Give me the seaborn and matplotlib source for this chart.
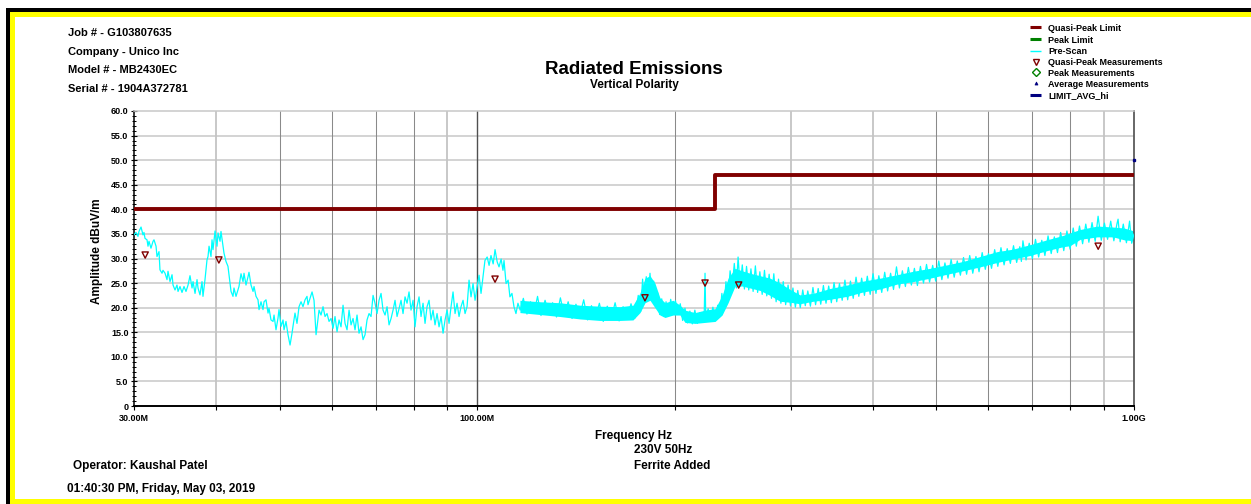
import matplotlib
matplotlib.use("Agg")
import numpy as np
import pandas as pd
import matplotlib.pyplot as plt
import seaborn as sns
from matplotlib.patches import Rectangle
from matplotlib.lines import Line2D
from matplotlib.ticker import FixedLocator, FixedFormatter, NullFormatter, MultipleLocator, FuncFormatter

# ---------------- data ----------------
qp_limit_mhz = [30, 230, 230, 1000]
qp_limit_db = [40, 40, 47, 47]

avg_hi_limit_mhz = [1000]
avg_hi_limit_db = [50]

qp_meas_mhz = [31.2, 40.4, 106.4, 180.0, 222.2, 250.0, 882.0]
qp_meas_db = [30.7, 29.7, 25.8, 22.0, 25.0, 24.6, 32.5]

# pre-scan trace, 30 MHz - 116 MHz
scan_low_mhz = [
    30.00, 30.21, 30.42, 30.53, 30.75, 30.96, 31.07, 31.18, 31.40, 31.51, 31.62, 31.84,
    32.07, 32.18, 32.41, 32.52, 32.75, 32.86, 33.10, 33.21, 33.45, 33.68, 33.80, 34.04,
    34.28, 34.40, 34.64, 34.88, 35.01, 35.25, 35.50, 35.75, 36.00, 36.26, 36.51, 36.77,
    36.90, 37.16, 37.42, 37.55, 37.81, 38.08, 38.21, 38.48, 38.75, 38.89, 39.03, 39.30,
    39.44, 39.58, 39.86, 40.14, 40.28, 40.56, 40.70, 40.99, 41.13, 41.42, 41.71, 41.86,
    42.16, 42.45, 42.60, 42.90, 43.20, 43.35, 43.66, 43.97, 44.12, 44.43, 44.75, 44.90,
    45.22, 45.54, 45.70, 46.02, 46.34, 46.51, 46.83, 47.16, 47.33, 47.66, 48.00, 48.16,
    48.50, 48.85, 49.02, 49.36, 49.71, 49.88, 50.24, 50.59, 50.77, 51.12, 51.48, 51.85,
    52.21, 52.39, 52.76, 53.13, 53.51, 53.89, 54.26, 54.65, 55.03, 55.22, 56.01, 56.40,
    56.80, 57.00, 57.40, 57.80, 58.21, 58.62, 59.03, 59.45, 59.87, 60.29, 60.71, 61.14,
    61.57, 62.00, 62.44, 62.88, 63.32, 63.77, 64.22, 64.67, 65.12, 65.58, 66.04, 66.51,
    66.98, 67.45, 67.92, 68.40, 68.88, 69.37, 69.85, 70.35, 70.84, 71.34, 71.84, 72.35,
    72.86, 73.37, 73.89, 74.41, 74.93, 75.46, 75.99, 76.52, 77.06, 77.60, 78.15, 78.70,
    79.25, 79.81, 80.37, 80.94, 81.51, 82.08, 82.66, 83.24, 83.83, 84.42, 85.01, 85.61,
    86.21, 86.82, 87.43, 88.05, 88.67, 89.29, 89.92, 90.55, 91.19, 91.83, 92.48, 93.13,
    93.78, 94.44, 95.11, 95.78, 96.45, 97.13, 97.81, 98.50, 99.20, 99.89, 100.6, 101.3,
    102.0, 102.7, 103.5, 104.2, 104.9, 105.7, 106.4, 107.2, 107.9, 108.7, 109.4, 109.8,
    110.6, 111.4, 112.1, 112.9, 113.7, 114.5, 115.3, 116.2,
]
scan_low_db = [
    34.8, 35.3, 34.5, 35.5, 36.4, 34.8, 35.3, 34.1, 33.8, 32.5, 33.5, 32.1,
    33.5, 33.8, 32.5, 30.4, 31.4, 27.7, 27.0, 27.6, 27.0, 25.7, 27.4, 25.3,
    26.7, 24.6, 23.6, 24.6, 23.3, 24.3, 23.1, 24.3, 23.3, 24.6, 26.5, 24.0,
    25.3, 22.9, 25.7, 24.0, 22.6, 25.3, 22.3, 25.7, 29.7, 30.4, 32.5, 30.4,
    33.8, 31.8, 35.6, 32.5, 35.2, 33.5, 35.5, 32.5, 31.1, 29.4, 28.4, 26.7,
    23.3, 22.3, 24.0, 22.3, 23.6, 24.3, 26.9, 25.3, 27.0, 24.6, 26.3, 27.2,
    24.6, 23.3, 24.3, 22.3, 21.6, 19.6, 21.2, 19.6, 21.2, 21.6, 18.9, 19.9,
    17.5, 17.2, 18.5, 15.5, 17.9, 19.6, 16.2, 17.5, 15.5, 17.2, 14.5, 12.4,
    14.8, 16.2, 18.9, 16.8, 20.2, 21.2, 20.2, 21.6, 22.3, 20.6, 23.2, 21.5,
    14.5, 16.1, 19.5, 18.5, 20.2, 18.2, 18.8, 17.2, 17.8, 15.8, 18.2, 15.1,
    17.5, 16.1, 20.5, 16.8, 15.5, 19.5, 16.5, 17.8, 15.5, 18.5, 14.8, 16.1,
    13.5, 14.5, 17.5, 18.8, 18.2, 22.5, 20.9, 18.8, 21.5, 22.9, 19.5, 18.5,
    20.2, 16.5, 17.8, 19.5, 21.5, 18.2, 19.8, 21.5, 18.8, 22.2, 20.9, 23.2,
    19.5, 21.5, 16.1, 20.2, 22.2, 18.2, 20.9, 16.8, 20.2, 21.5, 17.5, 19.5,
    16.5, 18.8, 16.1, 18.2, 14.8, 17.5, 19.5, 16.8, 20.2, 23.2, 18.8, 20.9,
    18.2, 20.2, 21.5, 18.8, 20.2, 25.6, 22.2, 24.9, 21.5, 24.2, 26.6, 22.9,
    26.2, 29.6, 30.3, 28.6, 30.6, 28.9, 31.8, 29.3, 28.3, 29.9, 27.6, 29.6,
    24.9, 25.6, 22.2, 22.9, 20.2, 18.8, 20.9, 19.5,
]

# pre-scan trace, 116 MHz - 1 GHz (edges of the noisy band)
scan_high_mhz = [
    117.5, 119.0, 120.5, 122.0, 123.5, 125.0, 126.8, 128.5, 130.2, 132.0, 133.8, 135.6,
    137.5, 139.4, 141.3, 143.2, 145.2, 147.2, 149.2, 151.3, 153.4, 155.5, 157.7, 159.9,
    162.1, 164.4, 166.7, 169.0, 171.4, 173.8, 175.8, 177.3, 178.5, 179.6, 180.8, 182.0,
    183.2, 184.4, 185.6, 186.9, 188.2, 189.5, 190.9, 192.3, 193.8, 195.4, 197.0, 198.6,
    200.3, 202.0, 203.7, 205.4, 207.1, 208.9, 210.7, 212.5, 214.4, 216.3, 218.2, 220.1,
    221.6, 222.2, 222.8, 224.6, 226.5, 228.4, 230.3, 232.3, 234.0, 235.7, 237.4, 239.1,
    240.8, 242.6, 244.4, 246.2, 248.0, 249.5, 251.3, 253.2, 255.1, 257.0, 259.0, 261.0,
    263.0, 265.1, 267.2, 269.3, 271.5, 273.7, 275.9, 278.2, 280.5, 282.8, 285.1, 287.5,
    289.9, 292.3, 294.8, 297.3, 299.8, 302.4, 305.0, 307.6, 310.3, 313.0, 315.8, 318.6,
    321.5, 324.4, 327.4, 330.4, 333.4, 336.5, 339.6, 342.8, 346.0, 349.3, 352.6, 356.0,
    359.4, 362.9, 366.4, 370.0, 373.6, 377.3, 381.0, 384.8, 388.6, 392.5, 396.5, 400.5,
    404.6, 408.7, 412.9, 417.2, 421.5, 425.9, 430.3, 434.8, 439.3, 443.9, 448.6, 453.3,
    458.1, 463.0, 467.9, 472.9, 478.0, 483.1, 488.3, 493.6, 498.9, 504.3, 509.8, 515.3,
    520.9, 526.6, 532.3, 538.1, 544.0, 550.0, 556.0, 562.1, 568.2, 574.5, 580.8, 587.2,
    593.7, 600.2, 606.8, 613.5, 620.3, 627.2, 634.1, 641.1, 648.2, 655.4, 662.7, 670.0,
    673.7, 677.4, 684.9, 692.5, 700.2, 707.9, 715.8, 723.7, 731.7, 739.8, 748.0, 756.3,
    764.7, 773.2, 781.7, 790.4, 799.1, 808.0, 816.9, 826.0, 835.1, 844.4, 853.7, 863.2,
    872.7, 881.7, 891.6, 901.5, 911.5, 921.6, 931.8, 942.1, 945.7, 952.6, 963.1, 973.8,
    984.6, 992.0, 1000.0,
]
scan_high_db = [
    21.9, 18.7, 21.2, 18.9, 22.3, 18.4, 21.5, 18.8, 21.0, 18.1, 22.0, 18.4,
    21.2, 17.8, 20.7, 18.3, 21.6, 17.5, 20.4, 17.9, 20.9, 17.2, 20.3, 17.8,
    21.0, 17.3, 20.2, 17.6, 20.8, 17.9, 22.5, 19.2, 25.8, 21.3, 26.3, 21.7,
    27.0, 21.5, 25.4, 20.3, 23.0, 18.6, 21.8, 18.2, 21.2, 18.4, 21.7, 18.6,
    21.4, 18.8, 20.8, 17.4, 19.9, 16.9, 19.3, 16.7, 19.5, 16.8, 19.0, 17.1,
    19.2, 27.0, 17.2, 19.8, 17.3, 20.1, 17.4, 20.5, 18.2, 22.9, 19.8, 25.3,
    21.4, 27.5, 24.2, 29.0, 24.0, 30.3, 24.3, 28.7, 23.8, 28.4, 23.6, 27.9,
    23.3, 28.5, 23.1, 27.3, 22.7, 27.6, 22.4, 26.8, 21.9, 26.9, 21.2, 25.8,
    20.9, 25.3, 20.6, 24.6, 20.4, 24.0, 20.1, 23.5, 20.0, 23.6, 20.4, 23.4,
    20.3, 24.1, 20.6, 23.9, 20.7, 24.5, 20.9, 24.4, 21.0, 25.1, 21.2, 24.9,
    21.5, 25.6, 21.6, 25.4, 21.9, 26.2, 22.3, 26.0, 22.5, 26.4, 22.7, 26.9,
    22.9, 26.5, 23.1, 27.2, 23.4, 27.0, 23.7, 28.3, 24.0, 27.5, 24.3, 28.2,
    24.6, 28.0, 24.5, 28.4, 25.0, 28.8, 25.2, 28.6, 25.4, 29.5, 25.7, 29.1,
    26.0, 29.8, 26.2, 29.5, 26.6, 30.2, 26.8, 30.6, 27.0, 30.4, 27.3, 31.2,
    27.8, 31.0, 28.0, 31.8, 28.4, 32.2, 28.7, 32.0, 29.0, 32.6, 29.2, 32.4,
    29.4, 33.6, 29.7, 33.1, 30.0, 33.9, 30.3, 33.7, 30.6, 34.6, 31.0, 34.4,
    31.2, 35.3, 31.6, 35.6, 31.9, 36.2, 32.5, 36.6, 33.0, 37.0, 33.3, 37.3,
    33.5, 38.6, 33.7, 37.2, 33.9, 37.6, 33.6, 37.1, 38.0, 33.4, 37.0, 33.2,
    37.6, 33.1, 35.0,
]

# dense core of the noisy band (lower / upper edge)
band_mhz = [
    116.1, 124.6, 133.6, 143.4, 153.7, 164.9, 172.6, 176.9, 180.0, 183.2, 186.4, 189.7,
    193.1, 198.6, 203.5, 207.1, 214.5, 222.2, 230.2, 235.9, 240.9, 246.9, 253.0, 260.2,
    269.5, 279.1, 289.0, 299.4, 310.0, 324.5, 344.5, 365.6, 386.8, 410.5, 435.7, 460.9,
    489.0, 519.0, 549.0, 583.0, 619.0, 654.0, 694.0, 737.0, 780.0, 799.0, 828.0, 879.0,
    929.0, 965.8, 1000.0,
]
band_lo_db = [
    19.0, 18.6, 18.2, 17.7, 17.4, 17.4, 17.5, 19.0, 21.0, 21.5, 20.0, 18.5,
    18.0, 18.5, 18.5, 17.0, 16.8, 17.0, 17.2, 18.5, 21.0, 24.4, 24.4, 24.0,
    23.5, 22.5, 21.3, 21.1, 20.8, 21.3, 21.7, 22.3, 23.2, 23.8, 24.8, 25.3,
    26.0, 26.8, 27.5, 28.3, 29.2, 29.9, 30.6, 31.6, 32.4, 32.6, 33.9, 34.4,
    34.4, 33.8, 33.6,
]
band_hi_db = [
    21.5, 21.2, 21.0, 20.5, 20.3, 20.2, 20.5, 23.0, 26.0, 26.5, 25.0, 22.0,
    21.0, 21.5, 20.5, 19.5, 19.0, 19.5, 19.8, 22.5, 26.0, 28.0, 27.5, 27.0,
    26.5, 26.0, 25.0, 23.7, 22.6, 22.9, 23.9, 24.6, 25.4, 26.0, 26.7, 27.4,
    28.0, 28.7, 29.4, 30.4, 31.4, 31.9, 32.8, 33.8, 34.7, 35.2, 35.9, 36.6,
    36.4, 36.2, 35.6,
]

x_tick_values = [30, 100, 1000]
x_tick_labels = ["30.00M", "100.00M", "1.00G"]
x_minor_values = [40, 50, 60, 70, 80, 90, 200, 300, 400, 500, 600, 700, 800, 900]

header_lines = ["Job # - G103807635", "Company - Unico Inc",
                "Model # - MB2430EC", "Serial # - 1904A372781"]
legend_labels = ["Quasi-Peak Limit", "Peak Limit", "Pre-Scan",
                 "Quasi-Peak Measurements", "Peak Measurements",
                 "Average Measurements", "LIMIT_AVG_hi"]

# ---------------- styling ----------------
sns.set_theme(style="white")
plt.rcParams['font.family'] = ['Liberation Sans', 'DejaVu Sans']
plt.rcParams['font.weight'] = 'bold'
plt.rcParams['axes.labelweight'] = 'bold'

W, H = 1251, 504
DARKRED = '#800000'
CYAN = '#00ffff'
NAVY = '#000080'
GREEN = '#008000'


def fx(px):
    return px / W


def fy(py):
    return 1 - py / H


fig = plt.figure(figsize=(W / 100, H / 100), dpi=100)
fig.patch.set_facecolor('white')

# frame (black + yellow)
for (x0, y0, x1, y1, c) in [(6, 8, W, 12, 'black'), (6, 8, 10, H, 'black'),
                            (10, 12, W, 17, '#ffff00'), (10, 12, 15, H, '#ffff00'),
                            (10, 499, W, H, '#ffff00')]:
    fig.add_artist(Rectangle((fx(x0), fy(y1)), (x1 - x0) / W, (y1 - y0) / H,
                             transform=fig.transFigure, facecolor=c,
                             edgecolor='none', lw=0, zorder=0))

ax = fig.add_axes([134 / W, 1 - 406 / H, 1000 / W, 295 / H])
ax.set_facecolor('white')
ax.set_xscale('log')

# grid
for v in range(5, 60, 5):
    ax.axhline(v, color='#c8c8c8', lw=1.1, zorder=0.5)
light_v = {40, 90, 300, 400, 900}
for f in x_minor_values:
    if f in light_v:
        ax.axvline(f, color='#c4c4c4', lw=1.3, zorder=0.6)
    else:
        ax.axvline(f, color='#8a8a8a', lw=0.75, zorder=0.6)
ax.axvline(100, color='#505050', lw=1.0, zorder=0.6)

# pre-scan
ax.fill_between(band_mhz, band_lo_db, band_hi_db, color=CYAN, lw=0, zorder=2)
scan_df = pd.DataFrame({"freq": scan_low_mhz + scan_high_mhz,
                        "amp": scan_low_db + scan_high_db})
sns.lineplot(data=scan_df, x="freq", y="amp", ax=ax, color=CYAN, lw=0.9,
             estimator=None, sort=False, zorder=3)

# limits
lim_df = pd.DataFrame({"freq": qp_limit_mhz, "amp": qp_limit_db})
sns.lineplot(data=lim_df, x="freq", y="amp", ax=ax, color=DARKRED, lw=2.8,
             estimator=None, sort=False, zorder=4, solid_capstyle='butt')
ax.plot(avg_hi_limit_mhz, avg_hi_limit_db, marker='s', ms=1.8, color=NAVY,
        lw=0, clip_on=False, zorder=6)

# measurements
sns.scatterplot(x=qp_meas_mhz, y=qp_meas_db, ax=ax, marker='v', s=20,
                facecolors='none', edgecolor=DARKRED, linewidth=1.0, zorder=5)

ax.set_xlim(30, 1000)
ax.set_ylim(0, 60)

# ticks
ax.xaxis.set_major_locator(FixedLocator(x_tick_values))
ax.xaxis.set_major_formatter(FixedFormatter(x_tick_labels))
ax.xaxis.set_minor_locator(FixedLocator(x_minor_values))
ax.xaxis.set_minor_formatter(NullFormatter())
ax.tick_params(axis='x', which='both', direction='out', length=2.6, width=0.8,
               colors='black', labelsize=6.5, pad=3.2, bottom=True, top=False)
ax.yaxis.set_major_locator(MultipleLocator(5))
ax.yaxis.set_minor_locator(MultipleLocator(1))
ax.yaxis.set_major_formatter(FuncFormatter(lambda v, _: '0' if v == 0 else f'{v:.1f}'))
ax.tick_params(axis='y', which='major', direction='inout', length=4.4, width=0.8,
               colors='black', labelsize=6.5, pad=1.8, left=True, right=False)
ax.tick_params(axis='y', which='minor', direction='inout', length=2.9, width=0.7,
               colors='black', left=True, right=False)
for lab in ax.get_xticklabels() + ax.get_yticklabels():
    lab.set_fontweight('bold')

# spines
ax.spines['left'].set_color('black')
ax.spines['left'].set_linewidth(1.1)
ax.spines['bottom'].set_color('black')
ax.spines['bottom'].set_linewidth(1.4)
ax.spines['top'].set_color('#c8c8c8')
ax.spines['top'].set_linewidth(1.1)
ax.spines['right'].set_color('#5a5a5a')
ax.spines['right'].set_linewidth(1.3)

# axis labels
ax.set_ylabel('Amplitude dBuV/m', fontsize=8.5, fontweight='bold', color='black')
ax.yaxis.set_label_coords(-0.031, 0.525)
ax.set_xlabel('Frequency Hz', fontsize=8.5, fontweight='bold', color='black',
              ha='left', va='baseline')
ax.xaxis.set_label_coords((595 - 134) / 1000, (406 - 438.5) / 295)


def put(x, yc, s, size, ha='left'):
    base = yc + 0.358 * size * 100 / 72
    fig.text(fx(x), fy(base), s, fontsize=size, ha=ha, va='baseline',
             fontweight='bold', color='black')


for s, yc in zip(header_lines, [32.3, 51.0, 69.3, 87.7]):
    put(68, yc, s, 8.0)

put(633.5, 67.5, 'Radiated Emissions', 13.5, ha='center')
put(634, 84, 'Vertical Polarity', 8.5, ha='center')

put(634, 449, '230V 50Hz', 8.5)
put(634, 464.3, 'Ferrite Added', 8.5)
put(73, 464.3, 'Operator: Kaushal Patel', 8.5)
put(67, 488, '01:40:30 PM, Friday, May 03, 2019', 8.5)

# legend drawn by hand
leg_y = [27.3, 39.3, 50.7, 61.7, 72.3, 83.3, 95.3]
for s, yc in zip(legend_labels, leg_y):
    put(1048, yc, s, 6.5)
x0, x1, xc = fx(1030), fx(1041), fx(1035.5)
fig.add_artist(Line2D([x0, x1], [fy(leg_y[0])] * 2, transform=fig.transFigure,
                      color=DARKRED, lw=2.2, solid_capstyle='butt'))
fig.add_artist(Line2D([x0, x1], [fy(leg_y[1])] * 2, transform=fig.transFigure,
                      color=GREEN, lw=2.2, solid_capstyle='butt'))
fig.add_artist(Line2D([x0, x1], [fy(leg_y[2])] * 2, transform=fig.transFigure,
                      color=CYAN, lw=1.0, solid_capstyle='butt'))
fig.add_artist(Line2D([xc], [fy(leg_y[3])], transform=fig.transFigure, lw=0,
                      marker='v', ms=3.8, mfc='none', mec=DARKRED, mew=1.0))
fig.add_artist(Line2D([xc], [fy(leg_y[4])], transform=fig.transFigure, lw=0,
                      marker='D', ms=4.2, mfc='none', mec=GREEN, mew=1.0))
fig.add_artist(Line2D([xc], [fy(leg_y[5])], transform=fig.transFigure, lw=0,
                      marker='^', ms=2.2, mfc=NAVY, mec=NAVY, mew=0.5))
fig.add_artist(Line2D([x0, x1], [fy(leg_y[6])] * 2, transform=fig.transFigure,
                      color=NAVY, lw=2.2, solid_capstyle='butt'))

fig.savefig('out.png', dpi=100, facecolor='white')
